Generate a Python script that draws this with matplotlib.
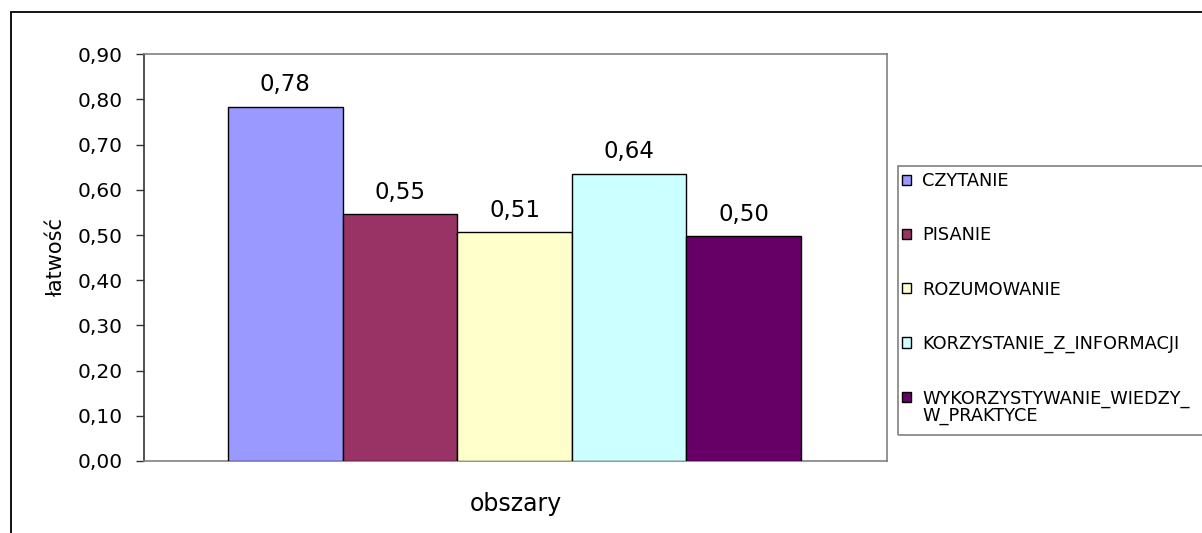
#!/usr/bin/env python3

import matplotlib
matplotlib.use("Agg")
import matplotlib.pyplot as plt
import matplotlib.ticker as ticker
from matplotlib.patches import Rectangle


IMAGE_SIZE_PX = (1202, 533)
IMAGE_DPI = 100

CATEGORIES = [
    "CZYTANIE",
    "PISANIE",
    "ROZUMOWANIE",
    "KORZYSTANIE_Z_INFORMACJI",
    "WYKORZYSTYWANIE_WIEDZY_",
]
# second line of the last legend entry
LAST_LABEL_TAIL = "W_PRAKTYCE"
VALUES = [0.784, 0.546, 0.506, 0.636, 0.498]
COLORS = ["#9999FF", "#993366", "#FFFFCC", "#CCFFFF", "#660066"]
Y_TICKS = [0.0, 0.1, 0.2, 0.3, 0.4, 0.5, 0.6, 0.7, 0.8, 0.9]


def comma(v, _pos=None):
    return f"{v:.2f}".replace(".", ",")


def main():
    # the source chart uses a wide-set Arial; DejaVu matches its widths better
    plt.rcParams["font.family"] = ["DejaVu Sans"]

    fig = plt.figure(figsize=[d / IMAGE_DPI for d in IMAGE_SIZE_PX], dpi=IMAGE_DPI)
    W, H = IMAGE_SIZE_PX

    # outer chart frame (runs off the right and bottom edge)
    fig.patches.append(Rectangle((11 / W, -0.1), 1.2, 1 - 12 / H + 0.1,
                                 transform=fig.transFigure, fill=False,
                                 edgecolor="black", linewidth=1.3))

    ax = fig.add_axes([144 / W, 72 / H, 743 / W, 406.7 / H])

    xs = list(range(len(VALUES)))
    bars = ax.bar(xs, VALUES, width=1.0, color=COLORS, edgecolor="black",
                  linewidth=1.0, zorder=3)
    for x, v in zip(xs, VALUES):
        ax.annotate(comma(v), (x, v), xytext=(0, 11), textcoords="offset points",
                    ha="center", va="baseline", fontsize=16.5, color="black")

    ax.set_xlim(-1.233, 5.25)
    ax.set_ylim(0, 0.9)
    ax.set_yticks(Y_TICKS)
    ax.yaxis.set_major_formatter(ticker.FuncFormatter(comma))
    ax.set_xticks([])
    ax.tick_params(axis="y", direction="out", length=6, width=1, color="#333333",
                   labelsize=14.5, pad=9.5)

    for side in ("top", "right", "bottom"):
        ax.spines[side].set_color("#808080")
        ax.spines[side].set_linewidth(1.2)
    ax.spines["left"].set_color("#333333")
    ax.spines["left"].set_linewidth(1.2)

    ax.set_ylabel("łatwość", fontsize=15, labelpad=8)
    ax.set_xlabel("obszary", fontsize=17, labelpad=22)

    # legend box (runs off the right edge)
    fig.patches.append(Rectangle((898 / W, 1 - 435 / H), 0.3, (435 - 166) / H,
                                 transform=fig.transFigure, fill=False,
                                 edgecolor="#808080", linewidth=1.2))
    leg = fig.legend(bars, CATEGORIES, loc="upper left",
                     bbox_to_anchor=(902 / W, 1 - 172 / H), frameon=False,
                     fontsize=12.8, handlelength=0.5, handleheight=0.5,
                     handletextpad=0.62, labelspacing=2.04, borderpad=0,
                     borderaxespad=0)

    # wrapped tail of the last entry, placed under its first line
    fig.canvas.draw()
    last = leg.get_texts()[-1].get_window_extent()
    fig.text(last.x0 / W, (last.y0 - 17) / H, LAST_LABEL_TAIL,
             fontsize=12.8, ha="left", va="bottom")

    fig.savefig("out.png", dpi=IMAGE_DPI)


if __name__ == "__main__":
    main()
